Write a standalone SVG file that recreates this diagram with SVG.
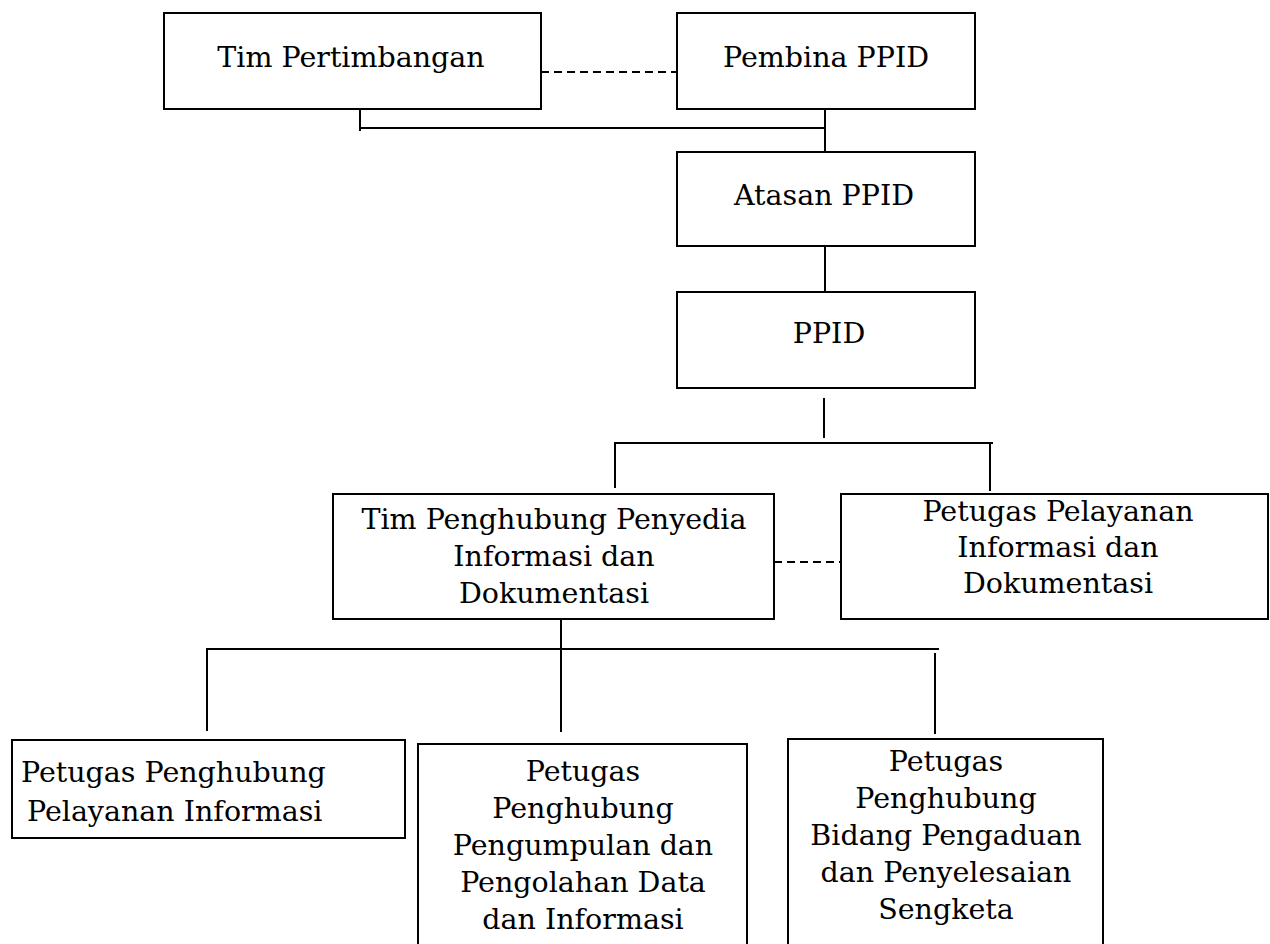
<svg xmlns="http://www.w3.org/2000/svg" width="1270" height="944" viewBox="0 0 1270 944">
<style>
.box{fill:#fff;stroke:#000;stroke-width:2}
.ln{stroke:#000;stroke-width:2;fill:none}
.dash{stroke:#000;stroke-width:2;fill:none;stroke-dasharray:8 5}
text{font-family:"DejaVu Serif","Liberation Serif",serif;font-size:28.5px;fill:#000;text-anchor:middle}
</style>
<rect width="1270" height="944" fill="#fff"/>
<g id="connectors">
<line class="dash" x1="541" y1="72" x2="677" y2="72"/>
<line class="ln" x1="825" y1="109" x2="825" y2="152"/>
<line class="ln" x1="360" y1="128" x2="826" y2="128"/>
<line class="ln" x1="360" y1="109" x2="360" y2="131"/>
<line class="ln" x1="825" y1="246" x2="825" y2="291"/>
<line class="ln" x1="824" y1="398" x2="824" y2="438"/>
<line class="ln" x1="614" y1="443" x2="993" y2="443"/>
<line class="ln" x1="615" y1="443" x2="615" y2="488"/>
<line class="ln" x1="990" y1="443" x2="990" y2="491"/>
<line class="dash" x1="774" y1="562" x2="841" y2="562"/>
<line class="ln" x1="561" y1="619" x2="561" y2="732"/>
<line class="ln" x1="206" y1="649" x2="939" y2="649"/>
<line class="ln" x1="207" y1="649" x2="207" y2="731"/>
<line class="ln" x1="935" y1="653" x2="935" y2="734"/>
</g>
<g id="tim-pertimbangan">
<rect class="box" x="164" y="13" width="377" height="96"/>
<text x="351" y="67">Tim Pertimbangan</text>
</g>
<g id="pembina-ppid">
<rect class="box" x="677" y="13" width="298" height="96"/>
<text x="826" y="67">Pembina PPID</text>
</g>
<g id="atasan-ppid">
<rect class="box" x="677" y="152" width="298" height="94"/>
<text x="824" y="205">Atasan PPID</text>
</g>
<g id="ppid">
<rect class="box" x="677" y="292" width="298" height="96"/>
<text x="829" y="343">PPID</text>
</g>
<g id="tim-penghubung">
<rect class="box" x="333" y="494" width="441" height="125"/>
<text x="554" y="529">Tim Penghubung Penyedia</text>
<text x="554" y="566">Informasi dan</text>
<text x="554" y="603">Dokumentasi</text>
</g>
<g id="petugas-pelayanan">
<rect class="box" x="841" y="494" width="427" height="125"/>
<text x="1058" y="521">Petugas Pelayanan</text>
<text x="1058" y="557">Informasi dan</text>
<text x="1058" y="593">Dokumentasi</text>
</g>
<g id="petugas-penghubung-pelayanan">
<rect class="box" x="12" y="740" width="393" height="98"/>
<text x="21" y="782" style="text-anchor:start">Petugas Penghubung</text>
<text x="27" y="821" style="text-anchor:start">Pelayanan Informasi</text>
</g>
<g id="petugas-penghubung-pengumpulan">
<rect class="box" x="418" y="744" width="329" height="220"/>
<text x="583" y="781">Petugas</text>
<text x="583" y="818">Penghubung</text>
<text x="583" y="855">Pengumpulan dan</text>
<text x="583" y="892">Pengolahan Data</text>
<text x="583" y="929">dan Informasi</text>
</g>
<g id="petugas-penghubung-pengaduan">
<rect class="box" x="788" y="739" width="315" height="225"/>
<text x="946" y="771">Petugas</text>
<text x="946" y="808">Penghubung</text>
<text x="946" y="845">Bidang Pengaduan</text>
<text x="946" y="882">dan Penyelesaian</text>
<text x="946" y="919">Sengketa</text>
</g>
</svg>
